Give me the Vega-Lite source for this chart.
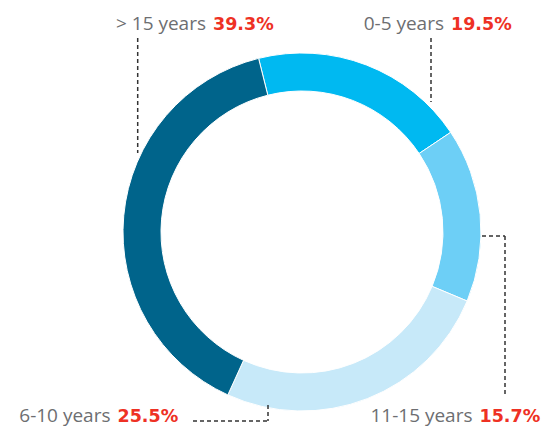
{
  "$schema": "https://vega.github.io/schema/vega-lite/v6.json",
  "width": 480,
  "height": 390,
  "autosize": {"type": "none"},
  "padding": {"left": 62, "top": 37, "right": 0, "bottom": 0},
  "background": "white",
  "config": {"view": {"stroke": null}},
  "datasets": {
    "seg": [
      {"cat": "0-5 years", "pct": 19.5, "ord": 1},
      {"cat": "11-15 years", "pct": 15.7, "ord": 2},
      {"cat": "6-10 years", "pct": 25.5, "ord": 3},
      {"cat": "> 15 years", "pct": 39.3, "ord": 4}
    ],
    "lead": [
      {"x": -1.643, "y": 1.94, "x2": -1.643, "y2": 0.79},
      {"x": 1.29, "y": 1.94, "x2": 1.29, "y2": 1.3},
      {"x": 1.8, "y": -0.04, "x2": 2.03, "y2": -0.04},
      {"x": 2.03, "y": -0.04, "x2": 2.03, "y2": -1.63},
      {"x": -0.34, "y": -1.73, "x2": -0.34, "y2": -1.89},
      {"x": -1.09, "y": -1.89, "x2": -0.34, "y2": -1.89}
    ],
    "lab": [
      {"name": "> 15 years", "pct": "39.3%", "x": -0.925, "y": 2.02},
      {"name": "0-5 years", "pct": "19.5%", "x": 1.455, "y": 2.02},
      {"name": "11-15 years", "pct": "15.7%", "x": 1.74, "y": -1.895},
      {"name": "6-10 years", "pct": "25.5%", "x": -1.88, "y": -1.895}
    ]
  },
  "layer": [
    {
      "data": {"name": "seg"},
      "mark": {"type": "arc", "outerRadius": 179, "innerRadius": 141, "stroke": "white", "strokeWidth": 1},
      "encoding": {
        "theta": {"field": "pct", "type": "quantitative", "stack": true, "scale": {"range": [-0.245, 6.0382]}},
        "order": {"field": "ord", "type": "quantitative"},
        "color": {
          "field": "cat", "type": "nominal", "legend": null,
          "scale": {"domain": ["0-5 years", "11-15 years", "6-10 years", "> 15 years"], "range": ["#00B9F1", "#6DCFF6", "#C7E9F9", "#00648B"]}
        }
      }
    },
    {
      "data": {"name": "lead"},
      "mark": {"type": "rule", "strokeDash": [4, 3], "color": "#333333", "strokeWidth": 1.5},
      "encoding": {
        "x": {"field": "x", "type": "quantitative", "scale": {"domain": [-2.4, 2.4], "nice": false, "zero": false}, "axis": null},
        "y": {"field": "y", "type": "quantitative", "scale": {"domain": [-1.95, 1.95], "nice": false, "zero": false}, "axis": null},
        "x2": {"field": "x2"},
        "y2": {"field": "y2"}
      }
    },
    {
      "data": {"name": "lab"},
      "mark": {"type": "text", "align": "right", "baseline": "alphabetic", "dx": -3.5, "font": "Open Sans", "fontSize": 19, "color": "#6D6E71"},
      "encoding": {
        "x": {"field": "x", "type": "quantitative"},
        "y": {"field": "y", "type": "quantitative"},
        "text": {"field": "name"}
      }
    },
    {
      "data": {"name": "lab"},
      "mark": {"type": "text", "align": "left", "baseline": "alphabetic", "dx": 3.5, "font": "DejaVu Sans", "fontSize": 17.5, "fontWeight": "bold", "color": "#EE3124"},
      "encoding": {
        "x": {"field": "x", "type": "quantitative"},
        "y": {"field": "y", "type": "quantitative"},
        "text": {"field": "pct"}
      }
    }
  ]
}
